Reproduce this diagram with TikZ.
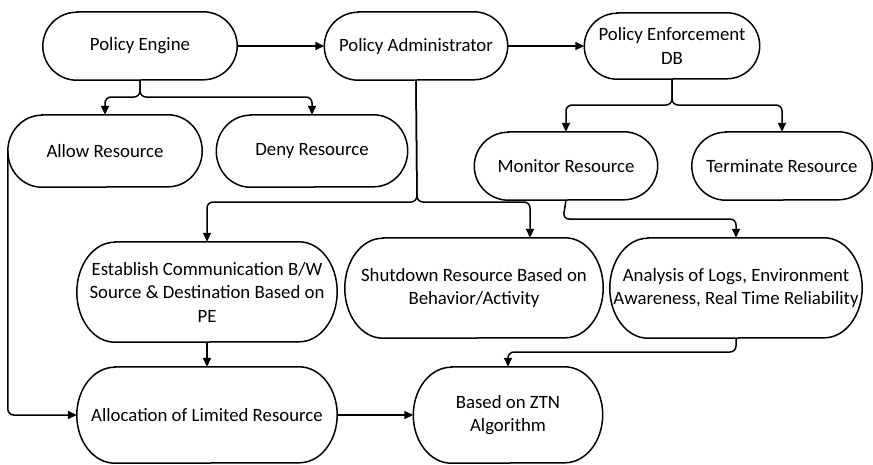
\documentclass[tikz,border=0pt]{standalone}
\usepackage{fontspec}
\setmainfont{Carlito}
\usetikzlibrary{arrows.meta}

% outline of a terminator box: straight top and bottom, elliptic ends
\newcommand\termoutline[3]{%
  \draw[outline] ([xshift=#2]#1.north west) -- ([xshift=-#2]#1.north east)
    arc[start angle=90,end angle=-90,x radius=#2,y radius=#3]
    -- ([xshift=#2]#1.south west)
    arc[start angle=270,end angle=90,x radius=#2,y radius=#3] -- cycle;}

\begin{document}
\begin{tikzpicture}[x=1pt,y=-1pt,
  box/.style 2 args={minimum width=#1pt, minimum height=#2pt, inner sep=0pt,
    align=center, font=\fontsize{18.8}{23.5}\selectfont},
  outline/.style={line width=1.5pt},
  conn/.style={line width=1.5pt, rounded corners=6pt,
    -{Triangle[length=9pt,width=8pt]}}]
\useasboundingbox (0,0) rectangle (873,464);

% nodes
\node[box={194}{68}]  (pe)        at (140,46)  {Policy Engine};
\node[box={183}{68}]  (pa)        at (416,46)  {Policy Administrator};
\node[box={175}{66}]  (pedb)      at (672,46)  {Policy Enforcement\\DB};
\node[box={194}{72}]  (allow)     at (105,151) {Allow Resource};
\node[box={191}{72}]  (deny)      at (312,151) {Deny Resource};
\node[box={183}{68}]  (monitor)   at (566,166) {Monitor Resource};
\node[box={180}{68}]  (terminate) at (782,166) {Terminate Resource};
\node[box={260}{100}] (establish) at (207,292) {Establish Communication B/W\\Source \& Destination Based on\\PE};
\node[box={258}{100}] (shutdown)  at (474,288) {Shutdown Resource Based on\\Behavior/Activity};
\node[box={252}{100}] (analysis)  at (736,288) {Analysis of Logs, Environment\\Awareness, Real Time Reliability};
\node[box={260}{96}]  (alloc)     at (207,415) {Allocation of Limited Resource};
\node[box={189}{96}]  (ztn)       at (508,415) {Based on ZTN\\Algorithm};

\termoutline{pe}{34pt}{34pt}
\termoutline{pa}{34pt}{34pt}
\termoutline{pedb}{33pt}{33pt}
\termoutline{allow}{34pt}{36pt}
\termoutline{deny}{34pt}{36pt}
\termoutline{monitor}{34pt}{34pt}
\termoutline{terminate}{34pt}{34pt}
\termoutline{establish}{38pt}{50pt}
\termoutline{shutdown}{38pt}{50pt}
\termoutline{analysis}{38pt}{50pt}
\termoutline{alloc}{38pt}{48pt}
\termoutline{ztn}{38pt}{48pt}

% junction points
\coordinate (peJ)   at (140,97);
\coordinate (pedbJ) at (672,105);
\coordinate (paJ)   at (417,202);
\coordinate (monJ)  at (563,219);
\coordinate (anJ)   at (736,352);

% connectors
\draw[conn] (pe.east) -- (pa.west);
\draw[conn] (pa.east) -- (pedb.west);

\draw[conn] (pe.south) -- (peJ) -| (allow.north);
\draw[conn] (pe.south) -- (peJ) -| (deny.north);

\draw[conn] (pedb.south) -- (pedbJ) -| (monitor.north);
\draw[conn] (pedb.south) -- (pedbJ) -| (terminate.north);

\draw[conn] (pa.south) -- (paJ) -| (establish.north);
\draw[conn] (pa.south) -- (paJ) -| ([xshift=56pt]shutdown.north);

\draw[conn] (monitor.south) -- (monJ) -| (analysis.north);
\draw[conn] (analysis.south) -- (anJ) -| (ztn.north);

\draw[conn] (establish.south) -- (alloc.north);
\draw[conn] (allow.west) |- (alloc.west);
\draw[conn] (alloc.east) -- (ztn.west);
\end{tikzpicture}
\end{document}
